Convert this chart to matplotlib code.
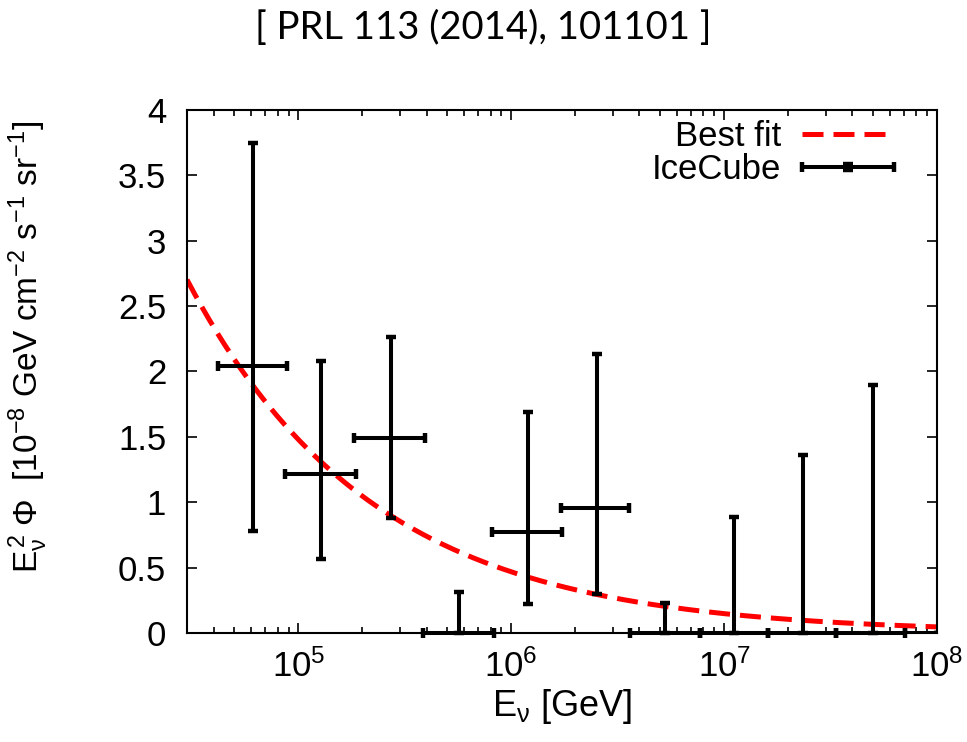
import numpy as np
import matplotlib
matplotlib.use("Agg")
import matplotlib.pyplot as plt
from matplotlib.ticker import LogLocator, LogFormatterMathtext, MultipleLocator, NullFormatter
from matplotlib.legend_handler import HandlerErrorbar

plt.rcParams['font.family'] = ['Liberation Sans', 'DejaVu Sans']
plt.rcParams['mathtext.fontset'] = 'custom'
plt.rcParams['mathtext.rm'] = 'Liberation Sans'
plt.rcParams['mathtext.it'] = 'Liberation Sans'
plt.rcParams['mathtext.bf'] = 'Liberation Sans:bold'

# ---- data ----
energy = [6.12e4, 1.282e5, 2.716e5, 5.70e5, 1.194e6, 2.529e6, 5.27e6, 1.112e7, 2.339e7, 4.99e7, 1.023e8]
bin_lo = [4.20e4, 8.65e4, 1.824e5, 3.85e5, 8.15e5, 1.72e6, 3.60e6, 7.69e6, 1.607e7, 3.35e7, 7.08e7]
bin_hi = [8.85e4, 1.866e5, 3.92e5, 8.30e5, 1.730e6, 3.57e6, 7.69e6, 1.607e7, 3.35e7, 7.08e7, 1.51e8]
flux = [2.04, 1.216, 1.49, 0.0, 0.775, 0.958, 0.0, 0.0, 0.0, 0.0, 0.0]
flux_lo = [0.78, 0.566, 0.882, 0.0, 0.222, 0.296, 0.0, 0.0, 0.0, 0.0, 0.0]
flux_hi = [3.745, 2.08, 2.26, 0.316, 1.688, 2.134, 0.232, 0.89, 1.361, 1.894, 0.0]

# best-fit power law: E^2 Phi = fit_norm * (E / fit_pivot)^fit_slope
fit_norm = 1.48
fit_pivot = 1e5
fit_slope = -0.5

x_range = (3e4, 1e8)
y_range = (0, 4)

fig = plt.figure(figsize=(9.67, 7.42), dpi=100)
ax = fig.add_axes([0.1934, 0.1469, 0.9690 - 0.1934, 0.8518 - 0.1469])

# best fit curve
e_curve = np.logspace(np.log10(x_range[0]), np.log10(x_range[1]), 300)
ax.plot(e_curve, fit_norm * (e_curve / fit_pivot) ** fit_slope, color='#ff0000',
        lw=3.6, dashes=(4.2, 2.0), label='Best fit', zorder=2)

e = np.array(energy)
f = np.array(flux)
xerr = np.vstack([e - np.array(bin_lo), np.array(bin_hi) - e])
yerr = np.vstack([f - np.array(flux_lo), np.array(flux_hi) - f])

n_vis = 10
cont = ax.errorbar(e[:n_vis], f[:n_vis], xerr=xerr[:, :n_vis], yerr=yerr[:, :n_vis],
                   fmt='none', ecolor='black', elinewidth=2.9, capsize=3.6, capthick=3.2,
                   label='IceCube', zorder=3, clip_on=False)
ax.errorbar(e[n_vis:], f[n_vis:], xerr=xerr[:, n_vis:], yerr=yerr[:, n_vis:],
            fmt='none', ecolor='black', elinewidth=2.9, capsize=3.6, capthick=3.2,
            zorder=3, clip_on=True)

ax.set_xscale('log')
ax.set_xlim(*x_range)
ax.set_ylim(*y_range)

ax.xaxis.set_major_locator(LogLocator(base=10, numticks=10))
ax.xaxis.set_minor_locator(LogLocator(base=10, subs=np.arange(2, 10), numticks=20))
ax.xaxis.set_major_formatter(LogFormatterMathtext())
ax.xaxis.set_minor_formatter(NullFormatter())
ax.yaxis.set_major_locator(MultipleLocator(0.5))
ax.yaxis.set_major_formatter(matplotlib.ticker.FuncFormatter(lambda v, p: f"{v:g}"))

ax.tick_params(which='both', direction='in', top=True, right=True, width=1.2, labelsize=25, colors='black')
ax.tick_params(which='major', length=7)
ax.tick_params(which='minor', length=4)
ax.tick_params(axis='y', pad=15)
ax.tick_params(axis='x', pad=12)
for s in ax.spines.values():
    s.set_linewidth(1.5)

ax.set_xlabel(r'$\mathregular{E_\nu}$ [GeV]', fontsize=26, labelpad=2)
ax.set_ylabel(r'$\mathregular{E_\nu^{\,2}\;\Phi}$  [10$^{-8}$ GeV cm$^{-2}$ s$^{-1}$ sr$^{-1}$]', fontsize=24)
ax.yaxis.set_label_coords(-0.183, 0.547)

fs_leg = 25
leg = ax.legend(handles=[ax.lines[0], cont], labels=['Best fit', 'IceCube'],
                loc='upper right', frameon=False, markerfirst=False, fontsize=fs_leg,
                handlelength=2.65, labelspacing=0.0, handletextpad=0.6,
                borderaxespad=0.2, bbox_to_anchor=(0.97, 1.02),
                handler_map={cont: HandlerErrorbar(xerr_size=1.33, yerr_size=0.08)})

fig.text(0.5, 0.962, '[ PRL 113 (2014), 101101 ]', ha='center', va='center',
         fontsize=27.5, family=['Lato', 'DejaVu Sans'])

fig.savefig('out.png', dpi=100)
